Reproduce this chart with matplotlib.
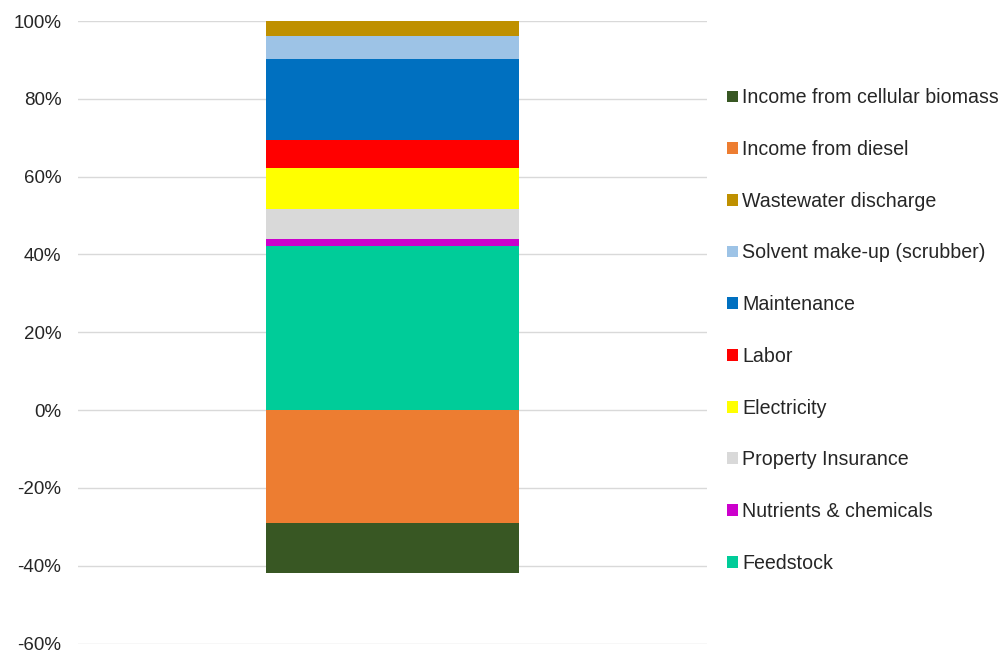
import matplotlib.pyplot as plt
from matplotlib.patches import Patch
from matplotlib.ticker import FuncFormatter

plt.rcParams["font.family"] = ["Liberation Sans", "DejaVu Sans"]

# データ（%）
categories = ["Feedstock", "Nutrients & chemicals", "Property Insurance",
              "Electricity", "Labor", "Maintenance",
              "Solvent make-up (scrubber)", "Wastewater discharge"]
cost_values = [42.05, 2.05, 7.6, 10.4, 7.2, 21.05, 5.9, 3.75]
cost_colors = ["#00CC99", "#CC00CC", "#D9D9D9", "#FFFF00",
               "#FF0000", "#0070C0", "#9DC3E6", "#BF9000"]

income_labels = ["Income from diesel", "Income from cellular biomass"]
income_values = [-28.9, -12.9]
income_colors = ["#ED7D31", "#385723"]

y_ticks = [-60, -40, -20, 0, 20, 40, 60, 80, 100]

TEXT_COLOR = "#262626"
FONT_TICK = 13.5
FONT_LEGEND = 14.1

fig = plt.figure(figsize=(10.01, 6.51), dpi=100)
ax = fig.add_axes([0.0779, 0.0115, 0.6284, 0.9562])

# 正の積み上げ
bottom = 0
for v, c in zip(cost_values, cost_colors):
    ax.bar(0, v, width=1, bottom=bottom, color=c, zorder=3)
    bottom += v

# 負の積み上げ
bottom = 0
for v, c in zip(income_values, income_colors):
    ax.bar(0, v, width=1, bottom=bottom, color=c, zorder=3)
    bottom += v

ax.set_xlim(-1.24, 1.24)
ax.set_ylim(-60, 100)
ax.set_yticks(y_ticks)
ax.yaxis.set_major_formatter(FuncFormatter(lambda v, p: f"{v:.0f}%"))
ax.set_xticks([])
ax.tick_params(axis="y", length=0, labelsize=FONT_TICK,
               labelcolor=TEXT_COLOR, pad=12)
ax.grid(axis="y", color="#D9D9D9", linewidth=1, zorder=0)
for s in ax.spines.values():
    s.set_visible(False)

# 凡例（上から逆順）
all_labels = categories + income_labels
all_colors = cost_colors + income_colors
handles = [Patch(facecolor=c, label=l)
           for l, c in zip(all_labels, all_colors)][::-1]
fig.legend(handles=handles, loc="center left",
           bbox_to_anchor=(0.7263, 0.4923), frameon=False,
           fontsize=FONT_LEGEND, labelcolor=TEXT_COLOR,
           handlelength=0.55, handleheight=0.55, handletextpad=0.24,
           labelspacing=1.67, borderpad=0, borderaxespad=0)

fig.savefig("out.png", dpi=100)
